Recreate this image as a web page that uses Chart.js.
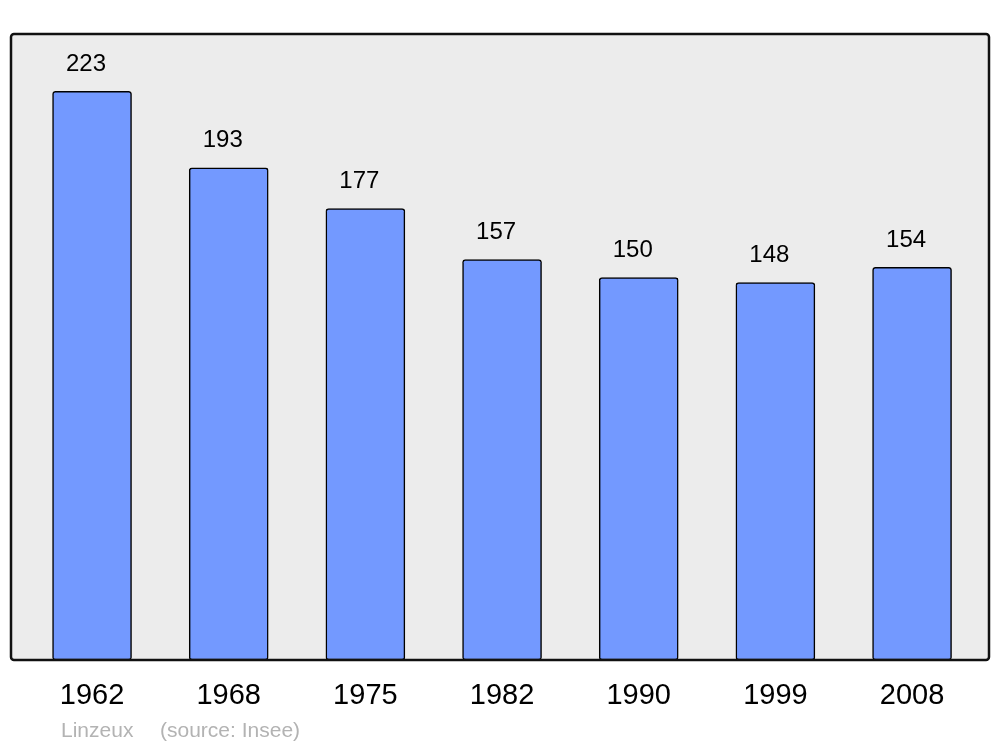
<!DOCTYPE html>
<html>
<head>
<meta charset="utf-8">
<title>Linzeux population</title>
<script src="https://cdn.jsdelivr.net/npm/chart.js@4/dist/chart.umd.min.js"></script>
<style>
    html, body { margin: 0; padding: 0; background: #ffffff; }
    #wrap { width: 1000px; height: 747px; position: relative; }
</style>
</head>
<body>
<div id="wrap"><canvas id="popChart"></canvas></div>
<script>
// Census years and population of Linzeux
const years = ['1962', '1968', '1975', '1982', '1990', '1999', '2008'];
const population = [223, 193, 177, 157, 150, 148, 154];
const footerLabels = ['Linzeux', '(source: Insee)'];

const FONT = '"Liberation Sans", Arial, sans-serif';

// grey panel with rounded black frame behind the bars
const framePlugin = {
    id: 'frame',
    beforeDatasetsDraw(chart) {
        const { ctx, chartArea: a } = chart;
        ctx.save();
        ctx.beginPath();
        ctx.roundRect(a.left, a.top, a.right - a.left, a.bottom - a.top, 3);
        ctx.fillStyle = '#ececec';
        ctx.fill();
        ctx.restore();
    },
    afterDatasetsDraw(chart) {
        const { ctx, chartArea: a } = chart;
        ctx.save();
        ctx.beginPath();
        ctx.roundRect(a.left, a.top, a.right - a.left, a.bottom - a.top, 3);
        ctx.lineWidth = 2.5;
        ctx.strokeStyle = '#111111';
        ctx.stroke();
        ctx.restore();
    }
};

// value above each bar
const valueLabels = {
    id: 'valueLabels',
    afterDatasetsDraw(chart) {
        const { ctx } = chart;
        const meta = chart.getDatasetMeta(0);
        ctx.save();
        ctx.font = '24px ' + FONT;
        ctx.fillStyle = '#000000';
        ctx.textAlign = 'center';
        ctx.textBaseline = 'middle';
        meta.data.forEach((bar, i) => {
            ctx.fillText(String(population[i]), bar.x - 6, bar.y - 27);
        });
        ctx.restore();
    }
};

// commune name and source under the axis
const footer = {
    id: 'footer',
    afterDraw(chart) {
        const { ctx } = chart;
        ctx.save();
        ctx.font = '21px ' + FONT;
        ctx.fillStyle = '#b3b3b3';
        ctx.textBaseline = 'alphabetic';
        ctx.fillText(footerLabels[0], 61, 737);
        ctx.fillText(footerLabels[1], 160, 737);
        ctx.restore();
    }
};

new Chart(document.getElementById('popChart'), {
    type: 'bar',
    data: {
        datasets: [{
            data: population.map((v, i) => ({ x: i, y: v })),
            backgroundColor: '#7399ff',
            borderColor: '#000000',
            borderWidth: 1.5,
            borderRadius: 3,
            borderSkipped: false,
            barThickness: 79
        }]
    },
    options: {
        responsive: true,
        maintainAspectRatio: false,
        animation: false,
        layout: {
            padding: { left: 11, right: 11, top: 34, bottom: 27 }
        },
        plugins: {
            legend: { display: false },
            tooltip: { enabled: false }
        },
        scales: {
            x: {
                type: 'linear',
                offset: false,
                min: -0.593,
                max: 6.563,
                grid: { display: false, offset: false },
                border: { display: false },
                afterFit(scale) { scale.height = 60; },
                afterBuildTicks(scale) {
                    scale.ticks = years.map((y, i) => ({ value: i }));
                },
                ticks: {
                    padding: 11,
                    color: '#000000',
                    font: { family: FONT, size: 29 },
                    callback: (v) => years[v]
                }
            },
            y: {
                display: false,
                min: 0,
                max: 245.5
            }
        }
    },
    plugins: [framePlugin, valueLabels, footer]
});
</script>
</body>
</html>
